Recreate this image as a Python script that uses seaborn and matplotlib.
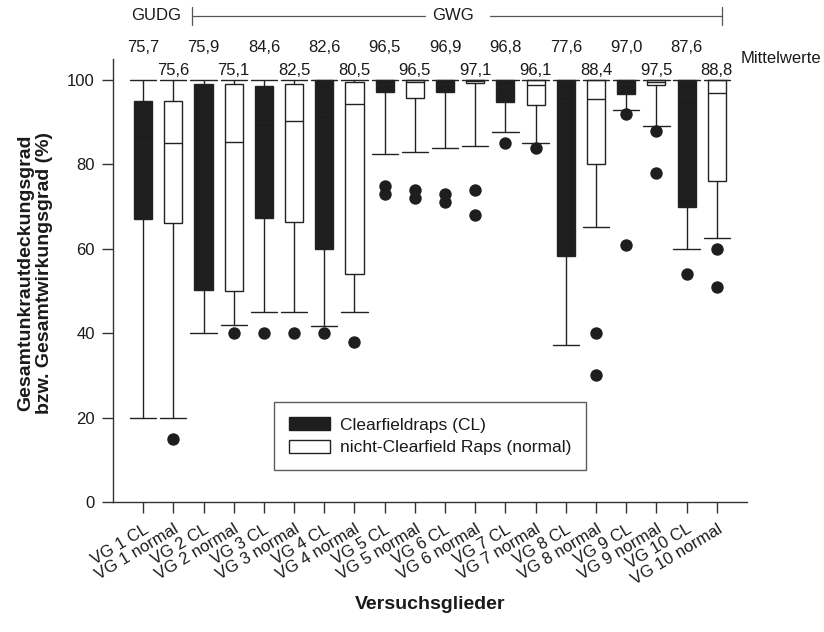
import pandas as pd
import matplotlib
matplotlib.use("Agg")
import matplotlib.pyplot as plt
from matplotlib.patches import Patch
import seaborn as sns

# === Data ===
labels = ["VG 1 CL", "VG 1 normal", "VG 2 CL", "VG 2 normal", "VG 3 CL", "VG 3 normal",
          "VG 4 CL", "VG 4 normal", "VG 5 CL", "VG 5 normal", "VG 6 CL", "VG 6 normal",
          "VG 7 CL", "VG 7 normal", "VG 8 CL", "VG 8 normal", "VG 9 CL", "VG 9 normal",
          "VG 10 CL", "VG 10 normal"]
q1 = [67, 66.2, 50.2, 50, 67.4, 66.4, 60, 54, 97.1, 95.7,
      97.2, 99.2, 94.7, 94.1, 58.4, 80, 96.8, 98.8, 70, 76.1]
med = [85, 85, 88, 85.4, 90, 90.4, 92, 94.3, 99, 99.5,
       99, 99.8, 98.5, 98.8, 95, 95.4, 99, 99.5, 96, 97]
q3 = [95, 95, 99, 99, 98.6, 99, 100, 99.5, 100, 100,
      100, 100, 100, 100, 100, 100, 100, 100, 100, 100]
whislo = [20, 20, 40, 42, 45, 45, 41.7, 45, 82.4, 82.9,
          83.9, 84.4, 87.6, 85, 37.2, 65.2, 93, 89, 60, 62.5]
whishi = [100] * 20
outliers = [[], [15], [], [40], [40], [40], [40], [38], [75, 73], [74, 72],
            [73, 71], [74, 68], [85], [84], [], [40, 30], [92, 61], [88, 78], [54], [60, 51]]
means_cl = [75.7, 75.9, 84.6, 82.6, 96.5, 96.9, 96.8, 77.6, 97.0, 87.6]
means_normal = [75.6, 75.1, 82.5, 80.5, 96.5, 97.1, 96.1, 88.4, 97.5, 88.8]

dark = "#1e1e1e"
edge = "#222222"
txt = "#1a1a1a"

sns.set_style("ticks")
plt.rcParams["font.family"] = ["Liberation Sans", "DejaVu Sans"]
plt.rcParams["font.size"] = 12
plt.rcParams["text.color"] = txt
plt.rcParams["axes.labelcolor"] = txt
plt.rcParams["xtick.color"] = txt
plt.rcParams["ytick.color"] = txt

fig = plt.figure(figsize=(8.24, 6.32), dpi=100)
ax = fig.add_axes([0.1371, 0.2057, 0.7694, 0.701])

# === Boxes ===
stats = []
for i in range(len(labels)):
    stats.append(dict(label=labels[i], q1=q1[i], med=med[i], q3=q3[i],
                      whislo=whislo[i], whishi=whishi[i], fliers=[]))
positions = list(range(len(labels)))
bp = ax.bxp(stats, positions=positions, widths=0.6, capwidths=0.87,
            patch_artist=True, showfliers=False,
            boxprops=dict(linewidth=1.0, edgecolor=edge),
            whiskerprops=dict(linewidth=1.0, color=edge),
            capprops=dict(linewidth=1.0, color=edge),
            medianprops=dict(linewidth=1.0, color=edge))
for i, box in enumerate(bp["boxes"]):
    box.set_facecolor(dark if i % 2 == 0 else "white")

# === Outliers ===
rows = []
for i, vals in enumerate(outliers):
    for v in vals:
        rows.append({"pos": i, "value": v})
df_out = pd.DataFrame(rows)
sns.scatterplot(data=df_out, x="pos", y="value", ax=ax, color=dark,
                s=80, edgecolor=dark, linewidth=0, zorder=3, legend=False)

# === Axes ===
ax.set_xlim(-1, 20)
ax.set_ylim(0, 105)
ax.set_yticks([0, 20, 40, 60, 80, 100])
ax.set_xticks(positions)
ax.set_xticklabels(labels, rotation=31, ha="right", rotation_mode="anchor", fontsize=12)
ax.tick_params(axis="both", direction="out", length=8, width=1, color="#333333", labelsize=12)
ax.tick_params(axis="x", pad=6, labelsize=12)
ax.tick_params(axis="y", pad=5)
sns.despine(ax=ax)
for s in ["left", "bottom"]:
    ax.spines[s].set_linewidth(1.0)
    ax.spines[s].set_color("#333333")

ax.set_ylabel("Gesamtunkrautdeckungsgrad\nbzw. Gesamtwirkungsgrad (%)",
              fontsize=14, fontweight="bold", linespacing=1.1)
ax.yaxis.set_label_coords(-0.095, 0.517)
ax.set_xlabel("Versuchsglieder", fontsize=14, fontweight="bold")
ax.xaxis.set_label_coords(0.5, -0.212)

# === Mean values ===
for k in range(10):
    fmt_cl = f"{means_cl[k]:.1f}".replace(".", ",")
    fmt_nm = f"{means_normal[k]:.1f}".replace(".", ",")
    ax.text(2 * k, 107.7, fmt_cl, ha="center", va="center", fontsize=12, clip_on=False)
    ax.text(2 * k + 1, 102.2, fmt_nm, ha="center", va="center", fontsize=12, clip_on=False)
ax.text(19.8, 105.1, "Mittelwerte", ha="left", va="center", fontsize=12, clip_on=False)

# === Group header ===
yh = 115.3
ax.text(0.43, yh, "GUDG", ha="center", va="center", fontsize=12, clip_on=False)
ax.text(10.27, yh, "GWG", ha="center", va="center", fontsize=12, clip_on=False)
lc = "#555555"
ax.plot([1.62, 9.34], [yh, yh], color=lc, lw=0.9, clip_on=False)
ax.plot([11.5, 19.17], [yh, yh], color=lc, lw=0.9, clip_on=False)
ax.plot([1.62, 1.62], [113.0, 117.2], color=lc, lw=0.9, clip_on=False)
ax.plot([19.17, 19.17], [113.0, 117.2], color=lc, lw=0.9, clip_on=False)

# === Legend ===
handles = [Patch(facecolor=dark, edgecolor=dark, label="Clearfieldraps (CL)"),
           Patch(facecolor="white", edgecolor=edge, label="nicht-Clearfield Raps (normal)")]
leg = ax.legend(handles=handles, loc="lower left", bbox_to_anchor=(0.254, 0.072),
                borderaxespad=0, frameon=True, fancybox=False, fontsize=12.5,
                handlelength=2.4, handleheight=0.8, handletextpad=0.55,
                labelspacing=0.4, borderpad=0.85)
leg.get_frame().set_edgecolor("#333333")
leg.get_frame().set_linewidth(1.0)

fig.savefig("out.png", dpi=100)
